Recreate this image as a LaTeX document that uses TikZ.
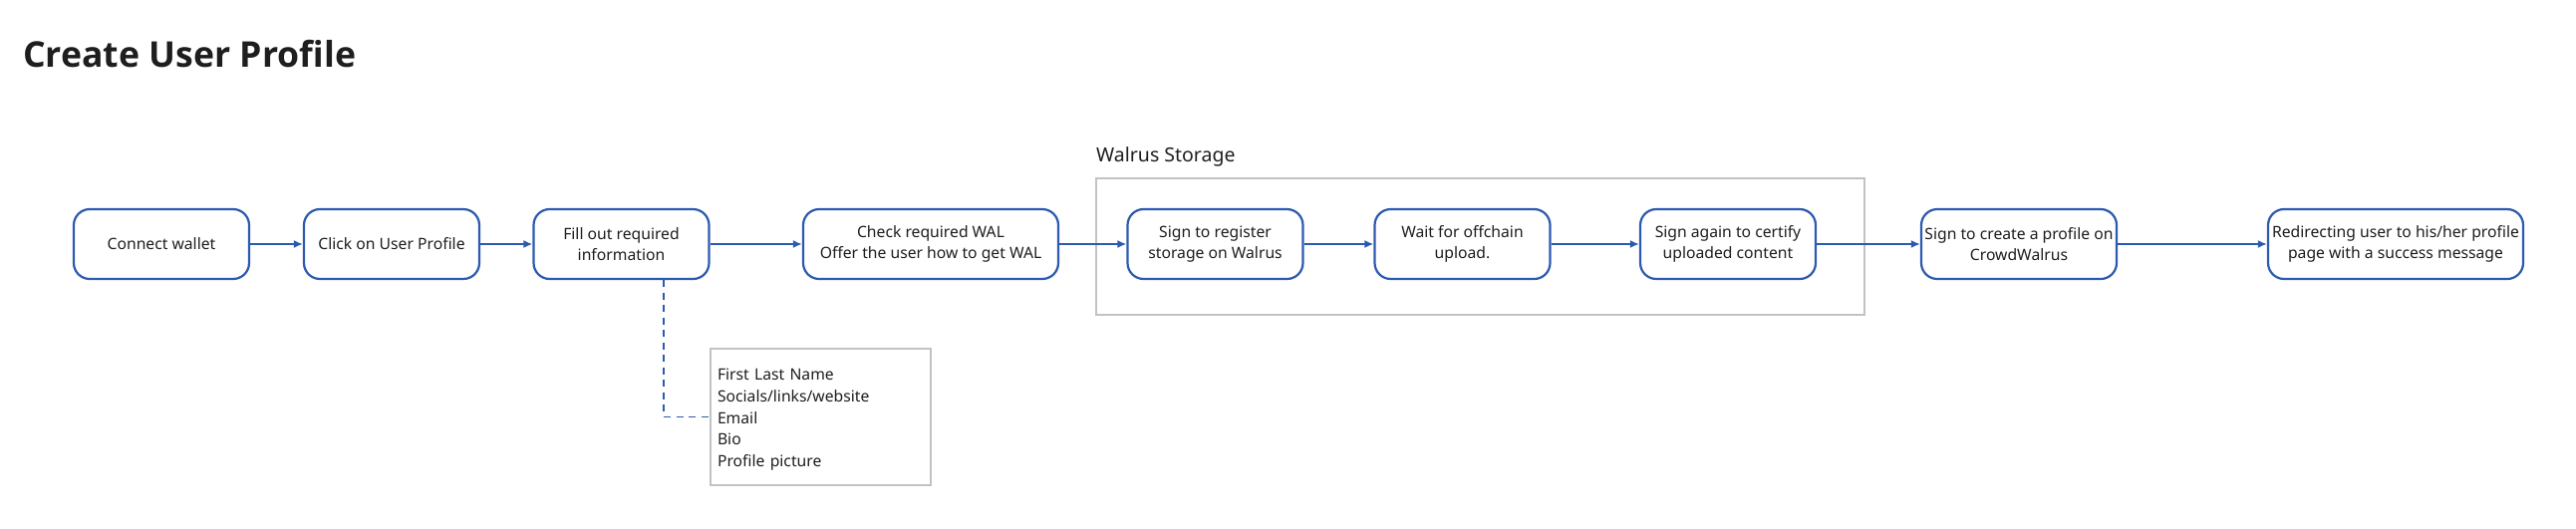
\documentclass[tikz,border=0pt]{standalone}
\usepackage{fontspec}
\setmainfont{Noto Sans}
\newfontfamily\titlefont{Open Sans}
\usetikzlibrary{arrows.meta}
\definecolor{flowblue}{RGB}{44,90,176}
\definecolor{framegray}{RGB}{194,194,194}
\definecolor{ink}{RGB}{30,30,30}

\begin{document}
\begin{tikzpicture}[x=1pt,y=-1pt,
  >={Latex[length=9pt,width=8pt]},
  stepbox/.style={draw=flowblue, line width=2.2pt, rounded corners=16pt, fill=white,
    minimum width=176pt, minimum height=70pt, align=center, inner sep=2pt,
    text=ink, font=\fontsize{15.7}{20.5}\selectfont},
  framebox/.style={draw=framegray, line width=2pt},
  infobox/.style={draw=framegray, line width=2pt, minimum width=221pt, minimum height=137pt,
    text width=207pt, inner xsep=7pt, align=left, text=ink,
    font=\fontsize{15.7}{21.8}\selectfont},
  flow/.style={draw=flowblue, line width=1.8pt, ->},
  note/.style={draw=flowblue, line width=1.6pt, dash pattern=on 7pt off 5.5pt}]
\useasboundingbox (0,0) rectangle (2585,530);

\node[anchor=base west, inner sep=0, text=ink, font=\titlefont\bfseries\fontsize{35.6}{40}\selectfont] (t) at (23,67) {Create User Profile};

% walrus part
\node[framebox, minimum width=771pt, minimum height=137pt] (s) at (1485.5,247.5) {};
\node[anchor=base west, inner sep=0, text=ink, font=\fontsize{19.5}{22}\selectfont] (sl) at (1100,162) {Walrus Storage};

\node[stepbox] (1) at (162,245) {Connect wallet};
\node[stepbox] (2) at (393,245) {Click on User Profile};
\node[stepbox] (3) at (623.5,245) {Fill out required\\information};
\node[stepbox, minimum width=256pt] (4) at (934,245) {Check required WAL\\Offer the user how to get WAL};
\node[stepbox] (5) at (1219.5,245) {Sign to register\\storage on Walrus};
\node[stepbox] (6) at (1467.5,245) {Wait for offchain\\upload.};
\node[stepbox] (7) at (1734,245) {Sign again to certify\\uploaded content};
\node[stepbox, minimum width=196pt] (8) at (2026,245) {Sign to create a profile on\\CrowdWalrus};
\node[stepbox, minimum width=256pt] (9) at (2404,245) {Redirecting user to his/her profile\\page with a success message};

\node[infobox] (i) at (823.5,418.5) {\rule{0pt}{17pt}First Last Name\\Socials/links/website\\Email\\Bio\\Profile picture};

\path[flow] (1) -- (2);
\path[flow] (2) -- (3);
\path[flow] (3) -- (4);
\path[flow] (4) -- (5);
\path[flow] (5) -- (6);
\path[flow] (6) -- (7);
\path[flow] (7) -- (8);
\path[flow] (8) -- (9);

\coordinate (d) at (666,281);
\path[note] (d) |- (i);
\end{tikzpicture}
\end{document}
